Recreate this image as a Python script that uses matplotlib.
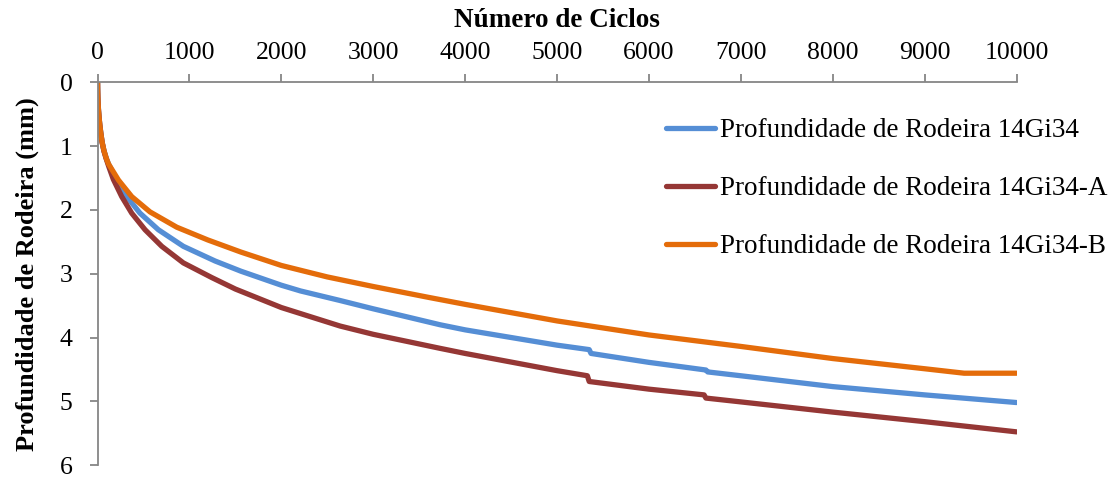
#!/usr/bin/env python3
"""Profundidade de rodeira vs numero de ciclos (14Gi34, -A, -B)."""
import matplotlib
matplotlib.use("Agg")
import matplotlib.pyplot as plt

# Ensaio de pista - leituras aproximadas (ciclos, mm)
ciclos_base = [0, 1, 3, 6, 10, 16, 24, 35, 50, 70, 95, 120, 209, 318, 462,
               662, 934, 1279, 1560, 2000, 2209, 2640, 3000, 3727, 4000, 5000,
               5350, 5370, 6000, 6620, 6640, 7000, 8000, 9000, 10000]
prof_base = [0, 0.1, 0.22, 0.33, 0.43, 0.54, 0.66, 0.79, 0.94, 1.07, 1.19,
             1.28, 1.53, 1.79, 2.05, 2.31, 2.57, 2.80, 2.96, 3.18, 3.27, 3.42,
             3.55, 3.80, 3.88, 4.12, 4.19, 4.25, 4.39, 4.51, 4.54, 4.60, 4.77,
             4.90, 5.02]

ciclos_a = [0, 1, 3, 6, 10, 16, 24, 35, 50, 70, 95, 120, 172, 263, 372, 517,
            699, 934, 1243, 1500, 2000, 2639, 3000, 3727, 4000, 5000, 5330,
            5350, 6000, 6600, 6620, 7000, 8000, 9000, 10000]
prof_a = [0, 0.1, 0.22, 0.33, 0.43, 0.54, 0.66, 0.79, 0.94, 1.08, 1.20, 1.31,
          1.52, 1.79, 2.05, 2.31, 2.57, 2.83, 3.06, 3.24, 3.53, 3.82, 3.95,
          4.17, 4.25, 4.52, 4.60, 4.69, 4.81, 4.90, 4.95, 5.01, 5.17, 5.32,
          5.48]

ciclos_b = [0, 1, 3, 6, 10, 16, 24, 35, 50, 70, 95, 120, 227, 372, 571, 862,
            1200, 1560, 2000, 2500, 3000, 3600, 4000, 5000, 6000, 7000, 8000,
            9000, 9430, 10000]
prof_b = [0, 0.1, 0.22, 0.33, 0.43, 0.54, 0.66, 0.79, 0.94, 1.07, 1.19, 1.28,
          1.53, 1.79, 2.03, 2.27, 2.47, 2.66, 2.87, 3.05, 3.20, 3.37, 3.48,
          3.74, 3.96, 4.14, 4.33, 4.49, 4.56, 4.56]

series = [
    ("Profundidade de Rodeira 14Gi34", ciclos_base, prof_base, "#558ED5"),
    ("Profundidade de Rodeira 14Gi34-A", ciclos_a, prof_a, "#953735"),
    ("Profundidade de Rodeira 14Gi34-B", ciclos_b, prof_b, "#E46C0A"),
]

x_ticks = list(range(0, 10001, 1000))
y_ticks = [0, 1, 2, 3, 4, 5, 6]


def main():
    plt.rcParams["font.family"] = ["Liberation Serif", "DejaVu Serif"]
    grey = "#868686"

    fig = plt.figure(figsize=(11.2, 4.79), dpi=100)
    ax = fig.add_axes([0.0871, 0.0292, 0.8205, 0.7986])

    for label, x, y, color in series:
        ax.plot(x, y, color=color, linewidth=3.8, label=label,
                solid_capstyle="round", solid_joinstyle="round")

    ax.set_xlim(0, 10000)
    ax.set_ylim(6, 0)
    ax.set_xticks(x_ticks)
    ax.set_yticks(y_ticks)
    ax.xaxis.tick_top()
    ax.xaxis.set_label_position("top")

    for side in ("right", "bottom"):
        ax.spines[side].set_visible(False)
    for side in ("left", "top"):
        ax.spines[side].set_color(grey)
        ax.spines[side].set_linewidth(1.3)
    ax.tick_params(axis="both", direction="out", length=6, width=1.3,
                   color=grey, labelsize=18.5)
    ax.tick_params(axis="x", pad=7)
    ax.tick_params(axis="y", pad=12)

    ax.set_xlabel("Número de Ciclos", fontsize=19.5, fontweight="bold",
                  labelpad=11)
    ax.set_ylabel("Profundidade de Rodeira (mm)", fontsize=19,
                  fontweight="bold", labelpad=15)

    fig.legend(loc="upper left", bbox_to_anchor=(0.585, 0.776),
               frameon=False, fontsize=19.5, handlelength=1.8,
               handletextpad=0.2, labelspacing=1.22, borderaxespad=0)

    fig.savefig("out.png", dpi=100)
    plt.close(fig)


if __name__ == "__main__":
    main()
